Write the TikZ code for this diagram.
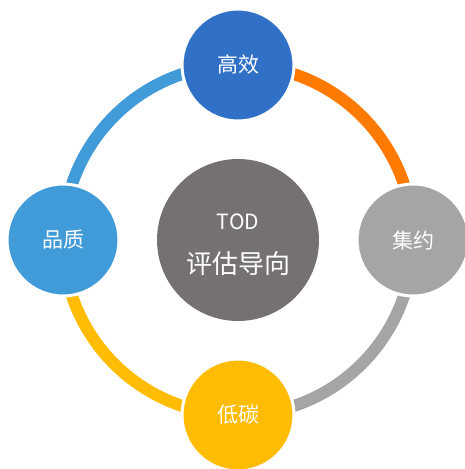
\documentclass[tikz,border=0pt]{standalone}
\usepackage{fontspec}
\setmainfont{Noto Sans CJK SC}
\usetikzlibrary{backgrounds}

\definecolor{topblue}{HTML}{3071C7}
\definecolor{leftblue}{HTML}{409BD8}
\definecolor{ringorange}{HTML}{FF7A00}
\definecolor{ringgray}{HTML}{A5A5A5}
\definecolor{ringyellow}{HTML}{FFBC00}
\definecolor{coregray}{HTML}{767171}

\tikzset{
  petal/.style={circle, minimum size=112pt, inner sep=0pt, draw=white,
    line width=3pt, text=white, font=\fontsize{21}{24}\selectfont},
  core/.style={circle, minimum size=162pt, inner sep=0pt, fill=coregray},
  coretext/.style={text=white, align=center, yshift=-5pt},
  ringarc/.style={line width=12pt},
}

\begin{document}
\begin{tikzpicture}[x=1pt, y=-1pt]
  \useasboundingbox (0,0) rectangle (465,469);

  % centre and the four surrounding goals
  \node[core, label={[coretext]center:{\fontsize{21}{24}\selectfont TOD\\[21pt]\fontsize{26}{30}\selectfont 评估导向}}]
    (core) at (238,240) {};
  \node[petal, fill=topblue]    (eff)  at (238,65)  {高效};
  \node[petal, fill=ringgray]   (int)  at (413,240) {集约};
  \node[petal, fill=ringyellow] (low)  at (238,415) {低碳};
  \node[petal, fill=leftblue]   (qual) at (63,240)  {品质};

  % ring segments joining neighbouring goals
  \begin{pgfonlayer}{background}
    \draw[ringarc, leftblue]   (qual.center) to[bend left=45] (eff.center);
    \draw[ringarc, ringorange] (eff.center)  to[bend left=45] (int.center);
    \draw[ringarc, ringgray]   (int.center)  to[bend left=45] (low.center);
    \draw[ringarc, ringyellow] (low.center)  to[bend left=45] (qual.center);
  \end{pgfonlayer}
\end{tikzpicture}
\end{document}
